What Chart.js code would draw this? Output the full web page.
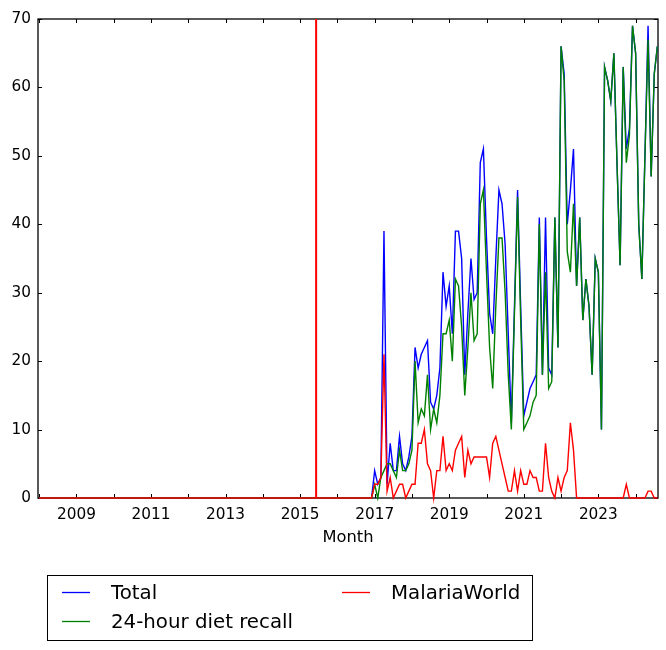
<!DOCTYPE html>
<html>
<head>
<meta charset="utf-8">
<script src="https://cdn.jsdelivr.net/npm/chart.js@4/dist/chart.umd.min.js"></script>
<style>
  html, body { margin: 0; padding: 0; background: #ffffff; }
  #wrap { width: 666px; height: 650px; position: relative; }
</style>
</head>
<body>
<div id="wrap"><canvas id="c" width="666" height="650"></canvas></div>
<script>
// Monthly series, first month = Jan 2008 (one row per year)
const startYear = 2008;

const total = [
  0,0,0,0,0,0,0,0,0,0,0,0,       // 2008
  0,0,0,0,0,0,0,0,0,0,0,0,       // 2009
  0,0,0,0,0,0,0,0,0,0,0,0,       // 2010
  0,0,0,0,0,0,0,0,0,0,0,0,       // 2011
  0,0,0,0,0,0,0,0,0,0,0,0,       // 2012
  0,0,0,0,0,0,0,0,0,0,0,0,       // 2013
  0,0,0,0,0,0,0,0,0,0,0,0,       // 2014
  0,0,0,0,0,0,0,0,0,0,0,0,       // 2015
  0,0,0,0,0,0,0,0,0,0,0,0,       // 2016
  4,2,3,39,2,8,4,4,9,5,4,6,      // 2017
  9,22,19,21,22,23,14,13,15,19,33,28,   // 2018
  31,24,39,39,35,18,27,35,29,30,49,51,  // 2019
  38,27,24,35,45,43,37,24,11,28,45,28,  // 2020
  12,14,16,17,18,41,18,41,19,18,41,22,  // 2021
  66,62,40,45,51,31,41,26,32,28,18,35,  // 2022
  33,10,63,61,58,65,49,34,63,51,54,69,  // 2023
  65,40,32,50,69,47,62,66               // 2024
];

const dietRecall = [
  0,0,0,0,0,0,0,0,0,0,0,0,
  0,0,0,0,0,0,0,0,0,0,0,0,
  0,0,0,0,0,0,0,0,0,0,0,0,
  0,0,0,0,0,0,0,0,0,0,0,0,
  0,0,0,0,0,0,0,0,0,0,0,0,
  0,0,0,0,0,0,0,0,0,0,0,0,
  0,0,0,0,0,0,0,0,0,0,0,0,
  0,0,0,0,0,0,0,0,0,0,0,0,
  0,0,0,0,0,0,0,0,0,0,0,0,
  2,0,3,4,5,5,4,3,7,4,4,5,
  7,20,11,13,12,18,10,13,11,15,24,24,
  26,20,32,31,25,15,22,30,23,24,43,45,
  33,22,16,28,38,38,30,18,10,27,44,26,
  10,11,12,14,15,40,18,33,16,17,41,22,
  66,61,36,33,43,31,41,26,32,28,18,35,
  33,10,63,61,58,65,49,34,63,49,53,69,
  65,40,32,50,67,47,62,66
];

const malariaWorld = [
  0,0,0,0,0,0,0,0,0,0,0,0,
  0,0,0,0,0,0,0,0,0,0,0,0,
  0,0,0,0,0,0,0,0,0,0,0,0,
  0,0,0,0,0,0,0,0,0,0,0,0,
  0,0,0,0,0,0,0,0,0,0,0,0,
  0,0,0,0,0,0,0,0,0,0,0,0,
  0,0,0,0,0,0,0,0,0,0,0,0,
  0,0,0,0,0,0,0,0,0,0,0,0,
  0,0,0,0,0,0,0,0,0,0,0,0,
  2,2,3,21,1,3,0,1,2,2,0,1,
  2,2,8,8,10,5,4,0,4,4,9,4,
  5,4,7,8,9,3,7,5,6,6,6,6,
  6,3,8,9,7,5,3,1,1,4,1,4,
  2,2,4,3,3,1,1,8,3,1,0,3,
  1,3,4,11,7,0,0,0,0,0,0,0,
  0,0,0,0,0,0,0,0,0,2,0,0,
  0,0,0,0,1,1,0,0
];

const seriesLabels = ['Total', '24-hour diet recall', 'MalariaWorld'];
const xTickYears = [2008,2009,2010,2011,2012,2013,2014,2015,2016,2017,2018,2019,2020,2021,2022,2023,2024];
const yTicks = [0,10,20,30,40,50,60,70];
const markerYear = 2015.43;
const xTitle = 'Month';

// month positions in decimal years
const months = total.map((_, i) => startYear + i / 12);
const toPoints = arr => arr.map((v, i) => ({ x: months[i], y: v }));

const FONT = 'DejaVu Sans';

const framePlugin = {
  id: 'frame',
  beforeDatasetsDraw(chart) {
    const { ctx, chartArea: a, scales: { x, y } } = chart;
    ctx.save();
    ctx.strokeStyle = '#000';
    ctx.lineWidth = 1.3;
    ctx.strokeRect(a.left, a.top, a.right - a.left, a.bottom - a.top);
    ctx.lineWidth = 1;
    ctx.beginPath();
    x.ticks.forEach(t => {
      const px = Math.round(x.getPixelForValue(t.value)) + 0.5;
      ctx.moveTo(px, a.bottom); ctx.lineTo(px, a.bottom - 4);
      ctx.moveTo(px, a.top); ctx.lineTo(px, a.top + 4);
    });
    y.ticks.forEach(t => {
      const py = Math.round(y.getPixelForValue(t.value)) + 0.5;
      ctx.moveTo(a.left, py); ctx.lineTo(a.left + 4, py);
      ctx.moveTo(a.right, py); ctx.lineTo(a.right - 4, py);
    });
    ctx.stroke();
    ctx.restore();
  },
  afterDatasetsDraw(chart) {
    const { ctx, chartArea: a, scales: { x } } = chart;
    const vx = x.getPixelForValue(markerYear);
    ctx.save();
    ctx.strokeStyle = '#ff0000';
    ctx.lineWidth = 2;
    ctx.beginPath();
    ctx.moveTo(vx, a.top); ctx.lineTo(vx, a.bottom);
    ctx.stroke();
    ctx.restore();
  },
  afterDraw(chart) {
    const { ctx } = chart;
    const ds = chart.data.datasets;
    ctx.save();
    ctx.fillStyle = '#fff';
    ctx.fillRect(47.5, 575.5, 485, 65);
    ctx.strokeStyle = '#000';
    ctx.lineWidth = 1;
    ctx.strokeRect(47.5, 575.5, 485, 65);
    const pos = [[62, 592], [62, 621], [342, 592]];
    ctx.font = '19.8px "' + FONT + '"';
    ctx.textBaseline = 'middle';
    ctx.textAlign = 'left';
    ds.forEach((d, i) => {
      const [lx, ly] = pos[i];
      ctx.strokeStyle = d.borderColor;
      ctx.lineWidth = 1.3;
      ctx.beginPath();
      ctx.moveTo(lx, ly + 0.5); ctx.lineTo(lx + 28, ly + 0.5);
      ctx.stroke();
      ctx.fillStyle = '#000';
      ctx.fillText(d.label, lx + 49, ly + 1.5);
    });
    ctx.restore();
  }
};

new Chart(document.getElementById('c'), {
  type: 'line',
  data: {
    datasets: [
      { label: seriesLabels[0], data: toPoints(total), borderColor: '#0000ff', backgroundColor: '#0000ff', order: 2, clip: false },
      { label: seriesLabels[1], data: toPoints(dietRecall), borderColor: '#008000', backgroundColor: '#008000', order: 1, clip: false },
      { label: seriesLabels[2], data: toPoints(malariaWorld), borderColor: '#ff0000', backgroundColor: '#ff0000', order: 0, clip: false }
    ]
  },
  options: {
    responsive: false,
    animation: false,
    devicePixelRatio: 1,
    layout: { padding: { left: 0, top: 19, right: 8, bottom: 97 } },
    plugins: { legend: { display: false }, tooltip: { enabled: false } },
    elements: { point: { radius: 0 }, line: { borderWidth: 1.4, tension: 0 } },
    scales: {
      x: {
        type: 'linear',
        min: 2007.97,
        max: 2024.6,
        afterBuildTicks: s => { s.ticks = xTickYears.map(v => ({ value: v })); },
        afterFit: s => { s.height = 55; },
        grid: { display: false, drawTicks: false },
        border: { display: false },
        ticks: {
          autoSkip: false, maxRotation: 0, minRotation: 0, padding: 8, color: '#000',
          font: { family: FONT, size: 15.3 },
          callback: v => (v % 2 === 1 ? String(v) : '')
        },
        title: { display: true, text: xTitle, color: '#000', font: { family: FONT, size: 16.3 }, padding: { top: 0, bottom: 5 } }
      },
      y: {
        min: 0,
        max: 70,
        afterBuildTicks: s => { s.ticks = yTicks.map(v => ({ value: v })); },
        afterFit: s => { s.width = 38; },
        grid: { display: false, drawTicks: false },
        border: { display: false },
        ticks: { padding: 7, color: '#000', font: { family: FONT, size: 15.3 } }
      }
    }
  },
  plugins: [framePlugin]
});
</script>
</body>
</html>
